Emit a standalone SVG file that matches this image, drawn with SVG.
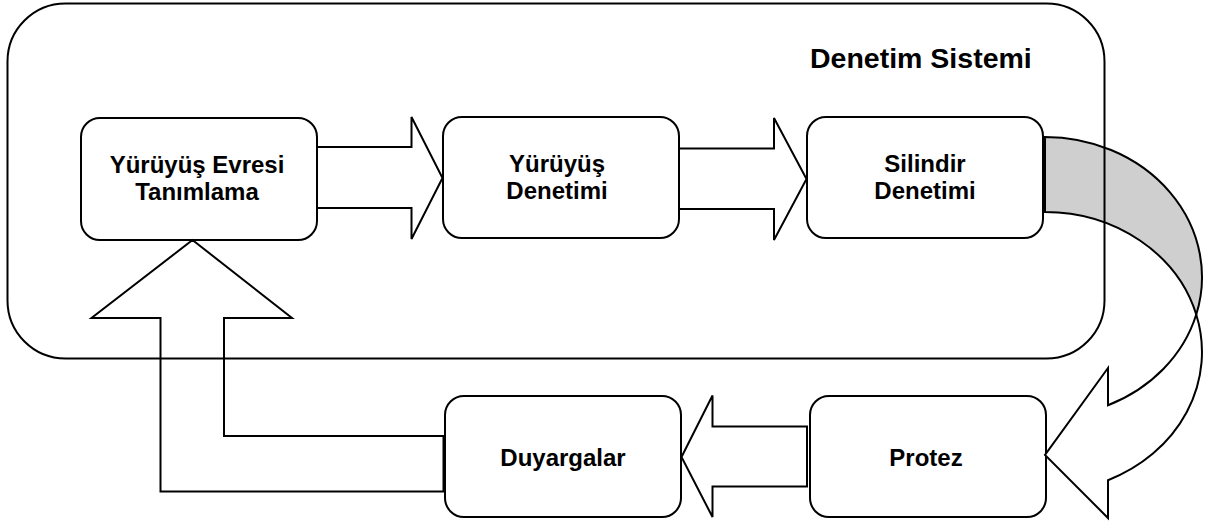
<svg xmlns="http://www.w3.org/2000/svg" width="1208" height="524" viewBox="0 0 1208 524">
<style>
.box{fill:#ffffff;stroke:#000000;stroke-width:2}
.arr{fill:#ffffff;stroke:#000000;stroke-width:2;stroke-linejoin:miter}
.shade{fill:#cfcfcf;stroke:#000000;stroke-width:2}
.frame{fill:none;stroke:#000000;stroke-width:2}
.lbl{font-family:"Liberation Sans",Arial,sans-serif;font-weight:bold;font-size:24px;fill:#000000;text-anchor:middle}
.title{font-family:"Liberation Sans",Arial,sans-serif;font-weight:bold;font-size:28.5px;fill:#000000}
</style>
<rect width="1208" height="524" fill="#ffffff"/>
<g id="node-evre">
<rect class="box" x="81" y="118" width="236" height="122" rx="19"/>
<text class="lbl" x="197" y="173">Yürüyüş Evresi</text>
<text class="lbl" x="197" y="200">Tanımlama</text>
</g>
<g id="node-yurüyus">
<rect class="box" x="443" y="117" width="236" height="121" rx="19"/>
<text class="lbl" x="557" y="172">Yürüyüş</text>
<text class="lbl" x="557" y="199">Denetimi</text>
</g>
<g id="node-silindir">
<rect class="box" x="807" y="117" width="236" height="121" rx="19"/>
<text class="lbl" x="925" y="172">Silindir</text>
<text class="lbl" x="925" y="199">Denetimi</text>
</g>
<g id="node-duyargalar">
<rect class="box" x="445" y="396" width="236" height="121" rx="19"/>
<text class="lbl" x="563" y="466">Duyargalar</text>
</g>
<g id="node-protez">
<rect class="box" x="810" y="396" width="236" height="121" rx="19"/>
<text class="lbl" x="926" y="466">Protez</text>
</g>
<g id="connectors">
<polygon class="arr" points="317,147 411.5,147 411.5,117 442.5,178 411.5,239 411.5,208 317,208"/>
<polygon class="arr" points="679,148.5 774,148.5 774,118 806.5,179 774,240 774,209 679,209"/>
<polygon class="arr" points="807,426.5 712.5,426.5 712.5,395.5 681.5,457 712.5,517 712.5,486.5 807,486.5"/>
<polygon class="arr" points="192.5,240 292,318 224,318 224,436 443.5,436 443.5,491.5 160.5,491.5 160.5,318 91.5,318"/>
<path class="shade" d="M1045 137 A157 140 0 0 1 1196.25 314.5 A157 140 0 0 0 1045 212 Z"/>
<path class="arr" d="M1196.25 314.5 A157 140 0 0 1 1108 480.2 L1108 518 L1045 455 L1108 368 L1108 405.2 A157 140 0 0 0 1196.25 314.5 Z"/>
</g>
<g id="denetim-sistemi">
<rect class="frame" x="7.5" y="3.5" width="1097" height="355" rx="58"/>
<text class="title" x="810" y="68">Denetim Sistemi</text>
</g>
</svg>
